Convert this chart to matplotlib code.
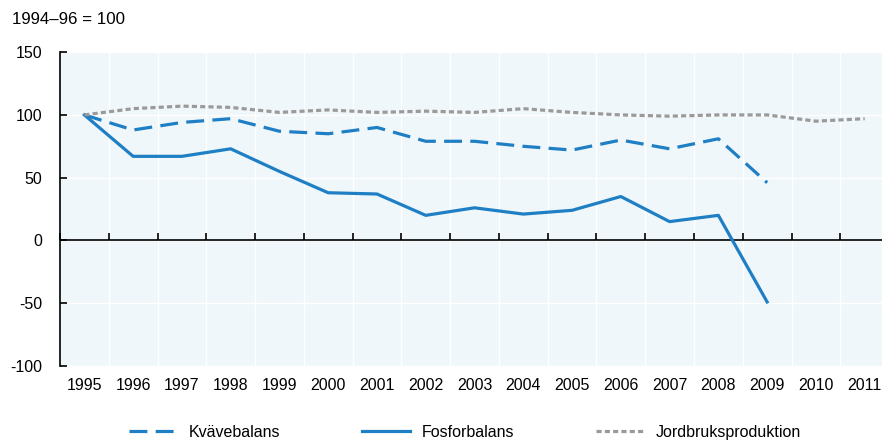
import matplotlib
matplotlib.use("Agg")
import matplotlib.pyplot as plt
import matplotlib.markers as mmarkers
import numpy as np

# %% data
YEARS = ["1995", "1996", "1997", "1998", "1999", "2000", "2001", "2002",
         "2003", "2004", "2005", "2006", "2007", "2008", "2009", "2010", "2011"]

KVAVE = [100, 88, 94, 97, 87, 85, 90, 79, 79, 75, 72, 80, 73, 81, 46]
FOSFOR = [100, 67, 67, 73, 55, 38, 37, 20, 26, 21, 24, 35, 15, 20, -49]
JORDBRUK = [100, 105, 107, 106, 102, 104, 102, 103, 102, 105, 102, 100, 99,
            100, 100, 95, 97]

Y_TICKS = [-100, -50, 0, 50, 100, 150]
UNIT_LABEL = "1994–96 = 100"

# %% style
plt.rcParams["font.family"] = ["Liberation Sans", "DejaVu Sans"]
plt.rcParams["font.size"] = 11.5

BLUE = "#1f7fc4"
GREY = "#9a9a9a"
BG = "#f0f7fa"
LW = 2.3

fig = plt.figure(figsize=(8.82, 4.42), dpi=100)
ax = fig.add_axes([0.068, 0.172, 0.940, 0.710])
ax.set_facecolor(BG)

x_all = np.arange(len(YEARS))
bounds = np.arange(-0.5, len(YEARS))

ax.plot(x_all[:len(KVAVE)], KVAVE, color=BLUE, lw=LW, dashes=(5.6, 2.6),
        label="Kvävebalans", zorder=3)
ax.plot(x_all[:len(FOSFOR)], FOSFOR, color=BLUE, lw=LW, label="Fosforbalans",
        zorder=3)
ax.plot(x_all[:len(JORDBRUK)], JORDBRUK, color=GREY, lw=LW, dashes=(1.6, 1.0),
        label="Jordbruksproduktion", zorder=3)

ax.set_xlim(-0.5, len(YEARS) - 0.5)
ax.set_ylim(Y_TICKS[0], Y_TICKS[-1])

# category labels at band centres, no marks
ax.set_xticks(x_all)
ax.set_xticklabels(YEARS)
ax.tick_params(axis="x", length=0, pad=9)
ax.set_xticks(bounds, minor=True)
ax.tick_params(axis="x", which="minor", length=0)

ax.set_yticks(Y_TICKS)
ax.set_yticklabels([str(v) for v in Y_TICKS])
ax.tick_params(axis="y", direction="in", length=5, width=1.2, pad=13)

ax.grid(True, which="minor", axis="x", color="white", lw=1)
ax.grid(True, which="major", axis="y", color="white", lw=1)
ax.set_axisbelow(True)

for side in ["top", "right", "bottom"]:
    ax.spines[side].set_visible(False)
ax.spines["left"].set_linewidth(1.2)

# zero line with small upward ticks at the category boundaries
ax.axhline(0, color="black", lw=1.2, zorder=2)
ax.plot(bounds, np.zeros(len(bounds)), ls="none", marker=mmarkers.TICKUP,
        ms=5, mew=1.2, color="black", zorder=2, clip_on=False)

fig.text(0.014, 0.955, UNIT_LABEL, ha="left", va="center", fontsize=12.2)

fig.legend(loc="center", bbox_to_anchor=(0.527, 0.022), ncol=3, frameon=False,
           handlelength=3.0, handletextpad=0.75, columnspacing=5.1)

fig.savefig("out.png", dpi=100)
